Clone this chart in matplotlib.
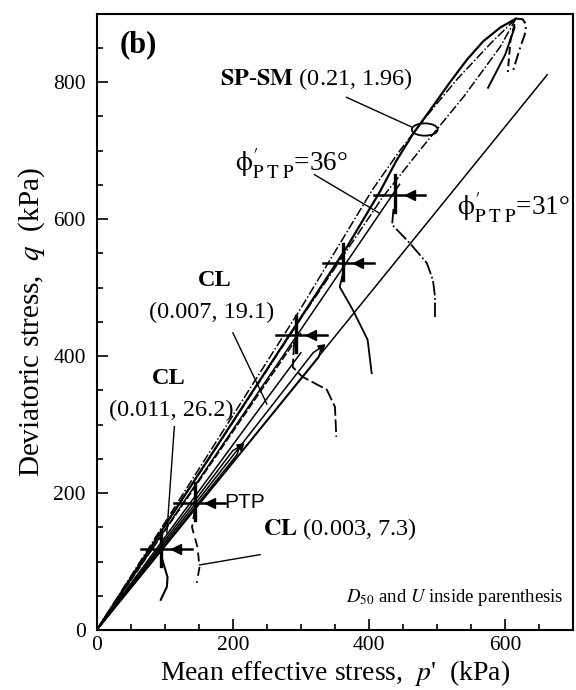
import matplotlib
matplotlib.use("Agg")
import matplotlib.pyplot as plt
from matplotlib.patches import Ellipse

plt.rcParams['font.family'] = ['Liberation Serif', 'DejaVu Serif']
plt.rcParams['mathtext.fontset'] = 'stix'

# ---------------- data (p', q in kPa) ----------------
x_ticks = [0, 200, 400, 600]
y_ticks = [0, 200, 400, 600, 800]

# PTP lines
phi31_p = [0, 662]
phi31_q = [0, 811]
phi36_p = [0, 445]
phi36_q = [0, 651]

# SP-SM stress paths
spsm_upper_p = [0, 368, 416, 440, 465, 494, 519, 544, 568, 593, 616]
spsm_upper_q = [0, 560, 640, 685, 725, 765, 800, 833, 860, 880, 893]
spsm_dd1_p = [0, 300, 405, 446, 480, 530, 580, 616]
spsm_dd1_q = [0, 470, 643, 701, 745, 805, 858, 893]
spsm_dd2_p = [0, 300, 420, 475, 540, 593, 616]
spsm_dd2_q = [0, 455, 632, 701, 780, 852, 893]

# post-peak branches of SP-SM
peak_d1_p = [616, 626, 631, 629, 622, 612]
peak_d1_q = [893, 892, 884, 870, 850, 818]
peak_d2_p = [614, 608, 604]
peak_d2_q = [885, 862, 815]
peak_d3_p = [614, 600, 575]
peak_d3_q = [880, 840, 792]

# CL paths (slender loops along the 31 deg line)
cl_a_p = [0, 318, 330, 326, 0]
cl_a_q = [0, 405, 413, 398, 0]
cl_b_p = [0, 200, 210, 206, 0]
cl_b_q = [0, 262, 268, 256, 0]
cl_c_p = [0, 290, 300]
cl_c_q = [0, 420, 434]
cl_d_p = [0, 250, 300]
cl_d_q = [0, 338, 405]

# PTP crosses
cross_p = [438, 362, 293, 144, 95]
cross_q = [636, 536, 431, 186, 118]

# unloading branches after PTP
u1_p = [436, 434, 460, 485, 494, 497, 497]
u1_q = [615, 592, 565, 536, 511, 487, 457]
u2_p = [362, 357, 376, 398, 404]
u2_q = [522, 501, 468, 424, 375]
u3_p = [290, 288, 302, 338, 350, 352]
u3_q = [420, 384, 370, 351, 326, 282]
u4_p = [144, 140, 148, 151, 147]
u4_q = [175, 150, 121, 92, 69]
u5_p = [95, 104, 103, 94]
u5_q = [107, 77, 63, 44]

# ---------------- figure ----------------
fig = plt.figure(figsize=(5.76, 6.90), dpi=100)
ax = fig.add_axes([0.168, 0.087, 0.827, 0.893])
ax.set_xlim(0, 700)
ax.set_ylim(0, 900)

lw = 1.1
k = 'black'
dd = (0, (6, 1.5, 1, 1.5))
ax.plot(phi31_p, phi31_q, color=k, lw=lw)
ax.plot(phi36_p, phi36_q, color=k, lw=lw)
ax.plot(spsm_upper_p, spsm_upper_q, color=k, lw=1.6)
ax.plot(spsm_dd1_p, spsm_dd1_q, color=k, lw=1.1, ls=dd)
ax.plot(spsm_dd2_p, spsm_dd2_q, color=k, lw=1.1, ls=dd)
ax.plot(peak_d1_p, peak_d1_q, color=k, lw=1.4, ls=(0, (6, 2, 1, 2)))
ax.plot(peak_d2_p, peak_d2_q, color=k, lw=1.4, ls=(0, (4, 2)))
ax.plot(peak_d3_p, peak_d3_q, color=k, lw=1.4)

ax.plot(cl_a_p, cl_a_q, color=k, lw=lw)
ax.plot(cl_b_p, cl_b_q, color=k, lw=lw)
ax.plot(cl_c_p, cl_c_q, color=k, lw=lw, ls=(0, (5, 1.5)))
ax.plot(cl_d_p, cl_d_q, color=k, lw=lw)
ax.plot([cl_a_p[2]], [cl_a_q[2]], marker=(3, 0, -51), ms=6, color=k)
ax.plot([cl_b_p[2]], [cl_b_q[2]], marker=(3, 0, -51), ms=6, color=k)

ax.plot(u1_p, u1_q, color=k, lw=1.3, ls=(0, (8, 1.5, 1, 1.5)))
ax.plot(u2_p, u2_q, color=k, lw=1.3)
ax.plot(u3_p, u3_q, color=k, lw=1.3, ls=(0, (7, 2)))
ax.plot(u4_p, u4_q, color=k, lw=1.3, ls=(0, (5, 3)))
ax.plot(u5_p, u5_q, color=k, lw=1.5)

for cp, cq in zip(cross_p, cross_q):
    ax.plot([cp - 30, cp + 45], [cq, cq], color=k, lw=1.8)
    ax.plot([cp, cp], [cq - 25, cq + 28], color=k, lw=2.4)
    ax.plot([cp + 22], [cq], marker='<', ms=7, color=k)

ax.add_patch(Ellipse((482, 731), 38, 18, angle=0, fill=False, lw=1.3, color=k))

# leaders
ax.plot([367, 462], [778, 735], color=k, lw=1.0)
ax.plot([320, 415], [665, 609], color=k, lw=1.0)
ax.plot([200, 250], [434, 330], color=k, lw=1.0)
ax.plot([114, 103], [297, 142], color=k, lw=1.0)
ax.plot([240, 151], [110, 95], color=k, lw=1.0)
ax.plot([180, 188], [186, 186], color=k, lw=1.0)

# texts
fs = 17.5
ax.text(34, 855, '(b)', fontsize=22, fontweight='bold', va='center', ha='left')
ax.text(181, 804, r'$\mathbf{SP}$-$\mathbf{SM}$ (0.21, 1.96)', fontsize=fs, va='center', ha='left')
phi_lab = r"$\mathrm{\phi}^{\prime}_{\mathrm{P\;T\;P}}$"
ax.text(203, 681, phi_lab + "=36°", fontsize=19.5, va='center', ha='left')
ax.text(529, 616, phi_lab + "=31°", fontsize=19.5, va='center', ha='left')
ax.text(173, 511, 'CL', fontsize=fs, fontweight='bold', va='center', ha='center')
ax.text(169, 464, '(0.007, 19.1)', fontsize=fs, va='center', ha='center')
ax.text(106, 368, 'CL', fontsize=fs, fontweight='bold', va='center', ha='center')
ax.text(110, 321, '(0.011, 26.2)', fontsize=fs, va='center', ha='center')
ax.text(188, 186, 'PTP', fontsize=15, family='Liberation Sans', va='center', ha='left')
ax.text(244, 148, r'$\mathbf{CL}$ (0.003, 7.3)', fontsize=fs, va='center', ha='left')
ax.text(686, 48, r'$D_{50}$ and $U$ inside parenthesis', fontsize=13.5, va='center', ha='right')

ax.set_xlabel(r"Mean effective stress,  $p$'  (kPa)", fontsize=20, va='top')
ax.xaxis.set_label_coords(0.5, -0.046)
ax.set_ylabel(r"Deviatoric stress,  $q$  (kPa)", fontsize=21, labelpad=4)

ax.set_xticks(x_ticks)
ax.set_yticks(y_ticks)
ax.set_xticks(range(0, 701, 50), minor=True)
ax.set_yticks(range(0, 901, 50), minor=True)
ax.tick_params(which='both', direction='in', top=False, right=False, labelsize=15.5, width=1.2)
ax.tick_params(which='major', length=8)
ax.tick_params(axis='x', which='major', pad=4)
ax.tick_params(axis='y', which='major', pad=8)
ax.tick_params(which='minor', length=4)
for s in ax.spines.values():
    s.set_linewidth(1.5)

fig.savefig('out.png', dpi=100)
